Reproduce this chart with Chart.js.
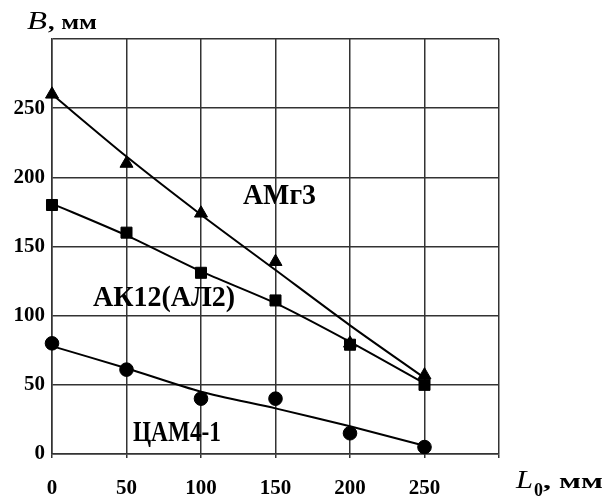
<!DOCTYPE html>
<html>
<head>
<meta charset="utf-8">
<script src="https://cdn.jsdelivr.net/npm/chart.js@4/dist/chart.umd.min.js"></script>
<style>
  html, body { margin: 0; padding: 0; background: #fff; }
  canvas { display: block; }
</style>
</head>
<body>
<canvas id="chart" width="609" height="500"></canvas>
<script>
// L0, mm
const lengths = [0, 50, 100, 150, 200, 250];
// measured B, mm
const amg3Points = [260, 210, 174, 139, 80, 57];
const ak12Points = [180, 160, 131, 111, 79, 50];
const camPoints = [80, 61, 40, 40, 15, 5];
// trend lines through the measurements
const amg3Trend = [260, 215, 173, 133, 93, 55];
const ak12Trend = [181, 158, 132, 109, 81, 51];
const camTrend = [78, 62, 45, 33, 20, 6];

const xTicks = [0, 50, 100, 150, 200, 250];
const yTicks = [0, 50, 100, 150, 200, 250];

const toXY = (ys) => lengths.map((x, i) => ({ x: x, y: ys[i] }));

const serif = "'Liberation Serif', 'Times New Roman', serif";

function trendSet(ys) {
    return {
        data: toXY(ys),
        showLine: true,
        borderColor: '#000',
        borderWidth: 2,
        pointRadius: 0,
        tension: 0.25,
        clip: false
    };
}

function markerSet(ys, style, r) {
    return {
        data: toXY(ys),
        showLine: false,
        pointStyle: style,
        pointRadius: r,
        pointBackgroundColor: '#000',
        pointBorderColor: '#000',
        pointBorderWidth: 1,
        clip: false
    };
}

// text squeezed/stretched to a given width, like the scanned original
function fitText(ctx, text, font, x, y, width) {
    ctx.save();
    ctx.font = font;
    const w = ctx.measureText(text).width;
    ctx.translate(x, y);
    ctx.scale(width / w, 1);
    ctx.fillText(text, 0, 0);
    ctx.restore();
}

const labelsPlugin = {
    id: 'labels',
    afterDraw(chart) {
        const ctx = chart.ctx;
        ctx.save();
        ctx.fillStyle = '#000';
        ctx.textBaseline = 'alphabetic';
        ctx.textAlign = 'left';
        // series names
        fitText(ctx, 'АМг3', 'bold 29px ' + serif, 243, 204, 73);
        fitText(ctx, 'АК12(АЛ2)', 'bold 29px ' + serif, 93, 306, 142);
        fitText(ctx, 'ЦАМ4-1', 'bold 29px ' + serif, 133, 441, 88);
        // axis titles
        fitText(ctx, 'B', 'italic 26px ' + serif, 27, 29, 20);
        fitText(ctx, ', мм', 'bold 21px ' + serif, 48, 29, 49);
        fitText(ctx, 'L', 'italic 26px ' + serif, 516, 488, 17);
        fitText(ctx, '0', 'bold 18px ' + serif, 534, 496, 9);
        fitText(ctx, ', мм', 'bold 21px ' + serif, 543, 488, 60);
        ctx.restore();
    }
};

document.addEventListener('DOMContentLoaded', () => {
    const ctx = document.getElementById('chart').getContext('2d');

    new Chart(ctx, {
        type: 'scatter',
        data: {
            datasets: [
                trendSet(amg3Trend),
                trendSet(ak12Trend),
                trendSet(camTrend),
                markerSet(amg3Points, 'triangle', 7.5),
                markerSet(ak12Points, 'rect', 7.8),
                markerSet(camPoints, 'circle', 6.8)
            ]
        },
        options: {
            responsive: false,
            animation: false,
            layout: {
                padding: { top: 39, right: 110, left: 0, bottom: 0 }
            },
            plugins: {
                legend: { display: false },
                tooltip: { enabled: false }
            },
            scales: {
                x: {
                    type: 'linear',
                    min: 0,
                    max: 300,
                    afterFit: (scale) => { scale.height = 46; },
                    afterBuildTicks: (scale) => {
                        scale.ticks = [0, 50, 100, 150, 200, 250, 300].map(v => ({ value: v }));
                    },
                    ticks: {
                        color: '#000',
                        padding: 18,
                        maxRotation: 0,
                        font: { family: serif, size: 21, weight: 'bold' },
                        callback: (v) => xTicks.includes(v) ? String(v) : ''
                    },
                    grid: { color: '#333', lineWidth: 1.5, tickLength: 4 },
                    border: { color: '#333', width: 1.5 }
                },
                y: {
                    type: 'linear',
                    min: 0,
                    max: 300,
                    afterFit: (scale) => { scale.width = 52; },
                    afterBuildTicks: (scale) => {
                        scale.ticks = [0, 50, 100, 150, 200, 250, 300].map(v => ({ value: v }));
                    },
                    ticks: {
                        color: '#000',
                        padding: 7,
                        font: { family: serif, size: 21, weight: 'bold' },
                        callback: (v) => yTicks.includes(v) ? String(v) : ''
                    },
                    grid: { color: '#333', lineWidth: 1.5, drawTicks: false },
                    border: { color: '#333', width: 1.5 }
                }
            }
        },
        plugins: [labelsPlugin]
    });
});
</script>
</body>
</html>
